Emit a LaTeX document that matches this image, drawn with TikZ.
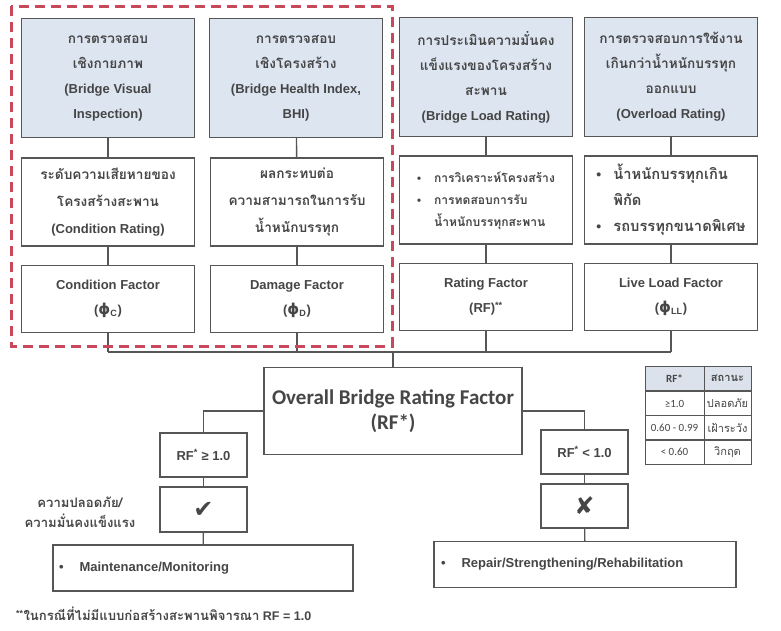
\documentclass[tikz,border=0pt]{standalone}
\usepackage{fontspec}
\setmainfont{Liberation Sans}
\newfontfamily\thaifont[Script=Thai,Scale=1.05]{Loma}
\newfontfamily\calfont{Carlito}
\newfontfamily\symfont{DejaVu Sans}

\definecolor{boxline}{HTML}{565656}
\definecolor{boxtext}{HTML}{464646}
\definecolor{topfill}{HTML}{DDE5F1}
\definecolor{headfill}{HTML}{DCE2EC}
\definecolor{redline}{HTML}{C9485A}

\newcommand{\tf}[1]{{\thaifont #1}}
\newcommand{\phisym}{{\symfont\fontsize{15}{15}\selectfont ϕ}}

\tikzset{
  box/.style={draw=boxline, line width=1.4pt, text=boxtext, align=center, inner sep=2pt, font=\bfseries\fontsize{13}{25}\selectfont},
  topbox/.style={box, fill=topfill, minimum width=173pt, minimum height=119pt},
  midbox/.style={box, fill=white, minimum width=173pt, minimum height=88pt},
  facbox/.style={box, fill=white, minimum width=173pt, minimum height=67pt},
  smallbox/.style={box, fill=white, minimum width=87pt, minimum height=44pt},
  widebox/.style={box, fill=white, minimum height=46pt, align=left, inner xsep=6pt},
  link/.style={draw=boxline, line width=1.4pt},
  reddash/.style={draw=redline, line width=3pt, dash pattern=on 10pt off 6pt},
  cell/.style={draw=boxline, line width=0.8pt, text=boxtext, minimum height=24.5pt, inner sep=0pt}
}

\begin{document}
\begin{tikzpicture}[x=1pt, y=-1pt]
    \useasboundingbox[fill=white] (0,0) rectangle (781,630);

    % row 1: kind of inspection
    \node[topbox] (insp1) at (108,78) {\tf{การตรวจสอบ}\\\tf{เชิงกายภาพ}\\(Bridge Visual\\Inspection)};
    \node[topbox] (insp2) at (296,78) {\tf{การตรวจสอบ}\\\tf{เชิงโครงสร้าง}\\(Bridge Health Index,\\BHI)};
    \node[topbox] (insp3) at (486,77) {\tf{การประเมินความมั่นคง}\\\tf{แข็งแรงของโครงสร้าง}\\\tf{สะพาน}\\(Bridge Load Rating)};
    \node[topbox] (insp4) at (671,77) {\tf{การตรวจสอบการใช้งาน}\\\tf{เกินกว่าน้ำหนักบรรทุก}\\\tf{ออกแบบ}\\(Overload Rating)};

    % row 2
    \node[midbox, font=\bfseries\fontsize{13}{27}\selectfont] (eff1) at (108,202) {\tf{ระดับความเสียหายของ}\\\tf{โครงสร้างสะพาน}\\(Condition Rating)};
    \node[midbox, font=\bfseries\fontsize{13}{27}\selectfont] (eff2) at (297,202) {\tf{ผลกระทบต่อ}\\\tf{ความสามารถในการรับ}\\\tf{น้ำหนักบรรทุก}};
    \node[midbox, font=\bfseries\fontsize{11.5}{22}\selectfont] (eff3) at (486,200) {\begin{tabular}{@{}l@{\hspace{13pt}}l@{}}
        \textbullet & \tf{การวิเคราะห์โครงสร้าง}\\
        \textbullet & \tf{การทดสอบการรับ}\\
                    & \tf{น้ำหนักบรรทุกสะพาน}\end{tabular}};
    \node[midbox, font=\bfseries\fontsize{14}{26}\selectfont] (eff4) at (671,200) {\begin{tabular}{@{}l@{\hspace{12pt}}l@{}}
        \textbullet & \tf{น้ำหนักบรรทุกเกิน}\\
                    & \tf{พิกัด}\\
        \textbullet & \tf{รถบรรทุกขนาดพิเศษ}\end{tabular}};

    % row 3: factors
    \node[facbox] (fac1) at (108,299) {Condition Factor\\(\phisym\textsubscript{C})};
    \node[facbox] (fac2) at (297,299) {Damage Factor\\(\phisym\textsubscript{D})};
    \node[facbox] (fac3) at (486,297) {Rating Factor\\(RF)\textsuperscript{**}};
    \node[facbox] (fac4) at (671,297) {Live Load Factor\\(\phisym\textsubscript{LL})};

    \foreach \i in {1,...,4}{
        \draw[link] (insp\i) -- (eff\i);
        \draw[link] (eff\i) -- (fac\i);
    }

    % overall factor
    \node[box, minimum width=258pt, minimum height=87pt, font=\calfont\bfseries\fontsize{21}{25}\selectfont] (orf) at (393,411) {Overall Bridge Rating Factor\\(RF*)};
    \coordinate (bus) at (393,352);
    \foreach \i in {1,...,4}
        \draw[link] (fac\i.south) -- (fac\i.south |- bus);
    \draw[link] (fac1.south |- bus) -- (fac4.south |- bus);
    \draw[link] (bus) -- (orf);

    % safe branch
    \node[smallbox] (ok) at (203.5,455) {RF\textsuperscript{*} ≥ 1.0};
    \node[smallbox, minimum height=45pt] (okmark) at (203.5,509.5) {\symfont\fontsize{24}{26}\selectfont ✔};
    \node[widebox, text width=288pt] (maint) at (203,568) {\textbullet\hspace{16pt}Maintenance/Monitoring};
    \node[text=boxtext, align=center, font=\bfseries\fontsize{12.5}{20}\selectfont] (safe) at (80,512) {\tf{ความปลอดภัย/}\\\tf{ความมั่นคงแข็งแรง}};
    \draw[link] (orf.west) -| (ok.north);
    \draw[link] (ok) -- (okmark);
    \draw[link] (okmark) -- (maint);

    % unsafe branch
    \node[smallbox] (notok) at (584.5,452) {RF\textsuperscript{*} < 1.0};
    \node[smallbox] (nokmark) at (584.5,506) {\symfont\fontsize{24}{26}\selectfont ✘};
    \node[widebox, text width=288pt, inner xsep=7pt] (repair) at (585,564.5) {\textbullet\hspace{16pt}Repair/Strengthening/Rehabilitation};
    \draw[link] (orf.east) -| (notok.north);
    \draw[link] (notok) -- (nokmark);
    \draw[link] (nokmark) -- (repair);

    % status table
    \node[cell, fill=headfill, minimum width=59pt, font=\calfont\bfseries\fontsize{11}{13}\selectfont] (h1) at (674.5,378.5) {RF*};
    \node[cell, fill=headfill, minimum width=47pt, font=\bfseries\fontsize{10.5}{13}\selectfont] (h2) at (727.5,378.5) {\tf{สถานะ}};
    \foreach \n/\y/\a/\b in {1/403.5/≥1.0/ปลอดภัย, 2/428/0.60 - 0.99/เฝ้าระวัง, 3/452/< 0.60/วิกฤต}{
        \node[cell, minimum width=59pt, font=\calfont\fontsize{11}{13}\selectfont] (r\n a) at (674.5,\y) {\a};
        \node[cell, minimum width=47pt, font=\fontsize{10.5}{13}\selectfont] (r\n b) at (727.5,\y) {\tf{\b}};
    }

    \node[anchor=west, text=boxtext, inner sep=0pt, font=\bfseries\fontsize{12.5}{15}\selectfont] (note) at (16,614) {\textsuperscript{**}\tf{ในกรณีที่ไม่มีแบบก่อสร้างสะพานพิจารณา} RF = 1.0};

    \draw[reddash] (11,6) rectangle (392,346);
\end{tikzpicture}
\end{document}
